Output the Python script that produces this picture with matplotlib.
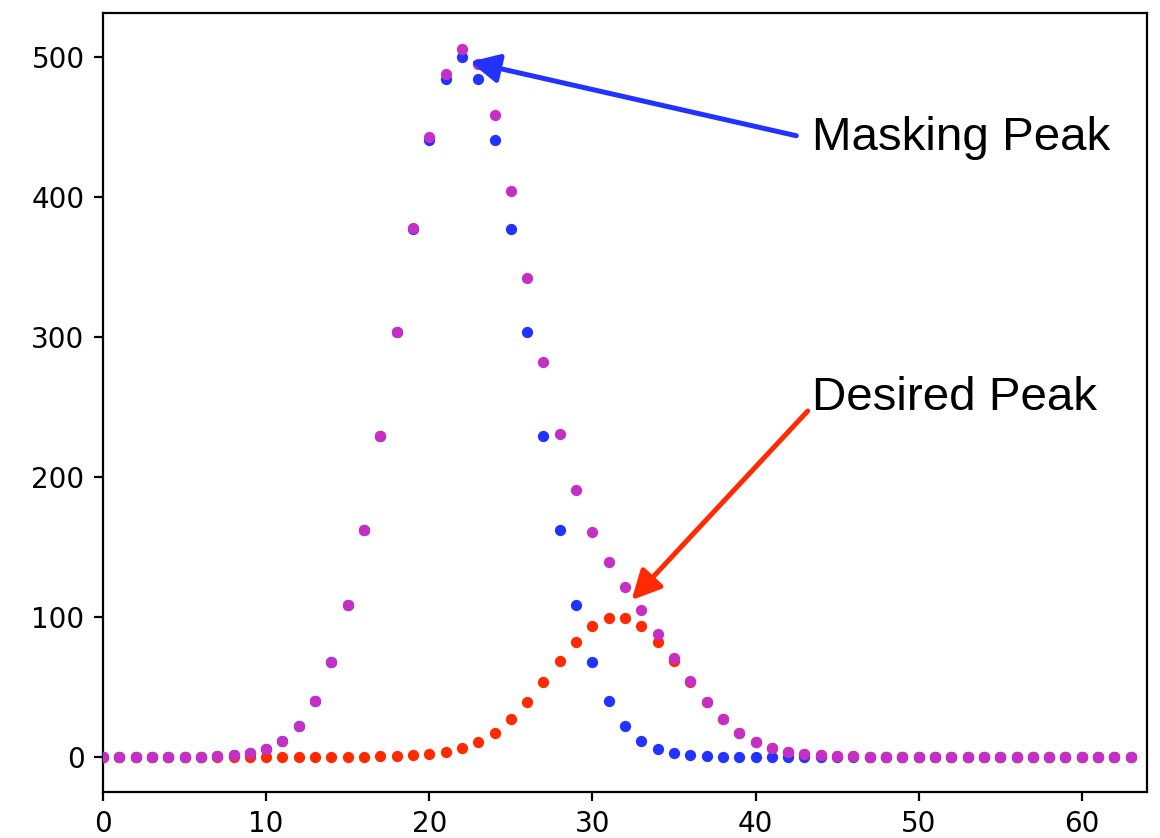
import numpy as np
import matplotlib
matplotlib.use("Agg")
import matplotlib.pyplot as plt

# sample index 0..63
x = list(range(64))

# masking peak (blue), centred at 22
masking = [0, 0, 0, 0, 0, 0, 0, 0.4, 1.1, 2.5, 5.6, 11.4, 22.0, 39.8, 67.7, 108.2,
           162.3, 228.9, 303.3, 377.4, 441.2, 484.6, 500.0, 484.6, 441.2, 377.4, 303.3, 228.9,
           162.3, 108.2, 67.7, 39.8, 22.0, 11.4, 5.6, 2.5, 1.1, 0.4, 0, 0,
           0, 0, 0, 0, 0, 0, 0, 0, 0, 0, 0, 0, 0, 0, 0, 0,
           0, 0, 0, 0, 0, 0, 0, 0]

# desired peak (red), centred between 31 and 32
desired = [0, 0, 0, 0, 0, 0, 0, 0, 0, 0, 0, 0, 0, 0, 0, 0,
           0, 0.1, 0.3, 0.8, 1.6, 3.2, 6.0, 10.5, 17.2, 26.7, 38.9, 53.1,
           68.2, 82.3, 93.2, 99.2, 99.2, 93.2, 82.3, 68.2, 53.1, 38.9, 26.7, 17.2,
           10.5, 6.0, 3.2, 1.6, 0.8, 0.3, 0.1, 0, 0, 0, 0, 0, 0, 0, 0, 0,
           0, 0, 0, 0, 0, 0, 0, 0]

# measured signal (magenta)
measured = [0, 0, 0, 0, 0, 0, 0, 0.4, 1.1, 2.5, 5.6, 11.4, 22.0, 39.8, 67.7, 108.2,
            162.3, 229.0, 303.6, 378.2, 442.8, 487.8, 506.0, 495.1, 458.4, 404.1, 342.2, 282.0,
            230.5, 190.5, 160.9, 139.0, 121.2, 104.6, 87.9, 70.7, 54.2, 39.3, 26.7, 17.2,
            10.5, 6.0, 3.2, 1.6, 0.8, 0.3, 0.1, 0, 0, 0, 0, 0, 0, 0, 0, 0,
            0, 0, 0, 0, 0, 0, 0, 0]

blue = "#2233ff"
red = "#ff2a00"
magenta = "#c62fc6"

fig = plt.figure(figsize=(11.6, 8.38), dpi=100)
ax = fig.add_axes([103 / 1160, 1 - 792 / 838, (1147 - 103) / 1160, (792 - 13.5) / 838])

ax.scatter(x, masking, s=66, color=blue, linewidths=0, zorder=2)
ax.scatter(x, desired, s=66, color=red, linewidths=0, zorder=3)
ax.scatter(x, measured, s=66, color=magenta, linewidths=0, zorder=4)

ax.set_xlim(0, 64)
ax.set_ylim(-25.3, 531.3)
ax.set_xticks([0, 10, 20, 30, 40, 50, 60])
ax.set_yticks([0, 100, 200, 300, 400, 500])
ax.tick_params(labelsize=20, length=6.8, width=1.6, pad=6.5)
for s in ax.spines.values():
    s.set_linewidth(1.6)

ax.annotate("", xy=(22.5, 496.8), xytext=(42.5, 443.9),
            arrowprops=dict(arrowstyle="-|>", color=blue, lw=3.6, mutation_scale=44,
                            shrinkA=0, shrinkB=0), zorder=5)
ax.annotate("", xy=(32.4, 111.9), xytext=(43.2, 247.1),
            arrowprops=dict(arrowstyle="-|>", color=red, lw=3.6, mutation_scale=44,
                            shrinkA=0, shrinkB=0), zorder=5)

ax.text(43.45, 433.9, "Masking Peak", fontsize=34.2, family="Liberation Sans",
        va="baseline", ha="left", zorder=6)
ax.text(43.49, 247.8, "Desired Peak", fontsize=34.2, family="Liberation Sans",
        va="baseline", ha="left", zorder=6)

fig.savefig("out.png", dpi=100)
